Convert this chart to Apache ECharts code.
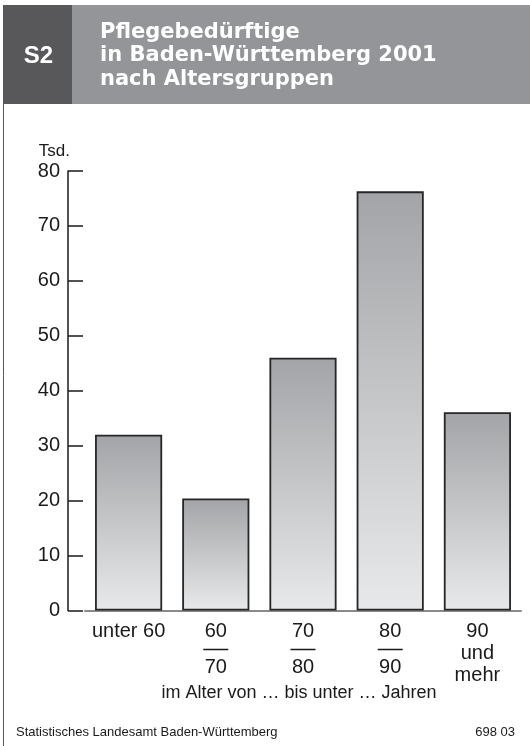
<!DOCTYPE html>
<html>
<head>
<meta charset="utf-8">
<script src="https://cdn.jsdelivr.net/npm/echarts@6/dist/echarts.min.js"></script>
<style>
  html, body { margin: 0; padding: 0; background: #ffffff; }
  #chart { width: 530px; height: 746px; }
</style>
</head>
<body>
<div id="chart"></div>
<script>
// Pflegebedürftige in Baden-Württemberg 2001, in Tausend, nach Altersgruppen
const categories = ['unter 60', '60–70', '70–80', '80–90', '90 und mehr'];
const values = [32.0, 20.4, 46.0, 76.3, 36.1];
const yTicks = [0, 10, 20, 30, 40, 50, 60, 70, 80];

const titleLines = ['Pflegebedürftige', 'in Baden-Württemberg 2001', 'nach Altersgruppen'];
const badge = 'S2';
const unitLabel = 'Tsd.';
const axisCaption = 'im Alter von … bis unter … Jahren';
const sourceText = 'Statistisches Landesamt Baden-Württemberg';
const codeText = '698 03';

const FONT = '"Liberation Sans", Arial, Helvetica, sans-serif';

// Axis label: ranges become a stacked fraction, "90 und mehr" is split into lines
function formatCategory(label) {
  const range = label.split('–');
  if (range.length === 2) {
    return '{n|' + range[0] + '}\n{rule| }\n{n|' + range[1] + '}';
  }
  if (/^\d/.test(label)) {
    return label.split(' ').map(w => '{n|' + w + '}').join('\n');
  }
  return '{n|' + label + '}';
}

const chart = echarts.init(document.getElementById('chart'), null, { renderer: 'canvas' });

const titleGraphics = titleLines.map((line, i) => ({
  type: 'text',
  left: 100,
  top: 22 + i * 23.5,
  z: 10,
  style: {
    text: line,
    fill: '#ffffff',
    font: 'bold 21px "DejaVu Sans", sans-serif'
  }
}));

chart.setOption({
  animation: false,
  backgroundColor: '#ffffff',
  grid: { left: 85, right: 9, top: 171, bottom: 135.5, containLabel: false },
  xAxis: {
    type: 'category',
    data: categories,
    axisLine: { show: true, lineStyle: { color: '#8a8a8a', width: 2 } },
    axisTick: { show: false },
    axisLabel: {
      margin: 10,
      interval: 0,
      formatter: formatCategory,
      rich: {
        n: { fontFamily: FONT, fontSize: 20, lineHeight: 22, color: '#1a1a1a', align: 'center' },
        rule: { width: 25, height: 1.5, lineHeight: 14, fontSize: 2, backgroundColor: '#1a1a1a', align: 'center' }
      }
    }
  },
  yAxis: {
    type: 'value',
    min: 0,
    max: 80,
    interval: 10,
    offset: 17,
    name: unitLabel,
    nameLocation: 'end',
    nameGap: 11,
    nameTextStyle: { fontFamily: FONT, fontSize: 17, color: '#1a1a1a', align: 'right', verticalAlign: 'bottom', padding: [0, -2, 0, 0] },
    axisLine: { show: true, lineStyle: { color: '#1a1a1a', width: 1.5 } },
    axisTick: { show: true, inside: true, length: 15, lineStyle: { color: '#1a1a1a', width: 1.5 } },
    axisLabel: {
      margin: 8,
      fontFamily: FONT,
      fontSize: 20,
      color: '#1a1a1a',
      formatter: v => (yTicks.indexOf(v) >= 0 ? String(v) : '')
    },
    splitLine: { show: false }
  },
  series: [{
    type: 'bar',
    data: values,
    barCategoryGap: '23%',
    itemStyle: {
      color: new echarts.graphic.LinearGradient(0, 0, 0, 1, [
        { offset: 0, color: '#a3a4a7' },
        { offset: 1, color: '#e8e9ea' }
      ]),
      borderColor: '#262626',
      borderWidth: 1.8
    },
    label: { show: false }
  }],
  graphic: [
    // frame line on the left
    { type: 'line', z: 1, shape: { x1: 3.5, y1: 5, x2: 3.5, y2: 746 }, style: { stroke: '#555555', lineWidth: 1 } },
    // header bands
    { type: 'rect', z: 2, shape: { x: 72, y: 5, width: 458, height: 99 }, style: { fill: '#939598' } },
    { type: 'rect', z: 2, shape: { x: 4, y: 5, width: 68, height: 99 }, style: { fill: '#58585a' } },
    {
      type: 'text', z: 10, x: 38.5, y: 56,
      style: { text: badge, fill: '#ffffff', font: 'bold 24px ' + FONT, align: 'center', verticalAlign: 'middle' }
    },
    ...titleGraphics,
    {
      type: 'text', z: 10, x: 299, y: 693,
      style: { text: axisCaption, fill: '#1a1a1a', font: '18px ' + FONT, align: 'center', verticalAlign: 'middle' }
    },
    {
      type: 'text', z: 10, x: 16, y: 732,
      style: { text: sourceText, fill: '#1a1a1a', font: '13px ' + FONT, align: 'left', verticalAlign: 'middle' }
    },
    {
      type: 'text', z: 10, x: 515, y: 732,
      style: { text: codeText, fill: '#1a1a1a', font: '13px ' + FONT, align: 'right', verticalAlign: 'middle' }
    }
  ]
});
</script>
</body>
</html>
